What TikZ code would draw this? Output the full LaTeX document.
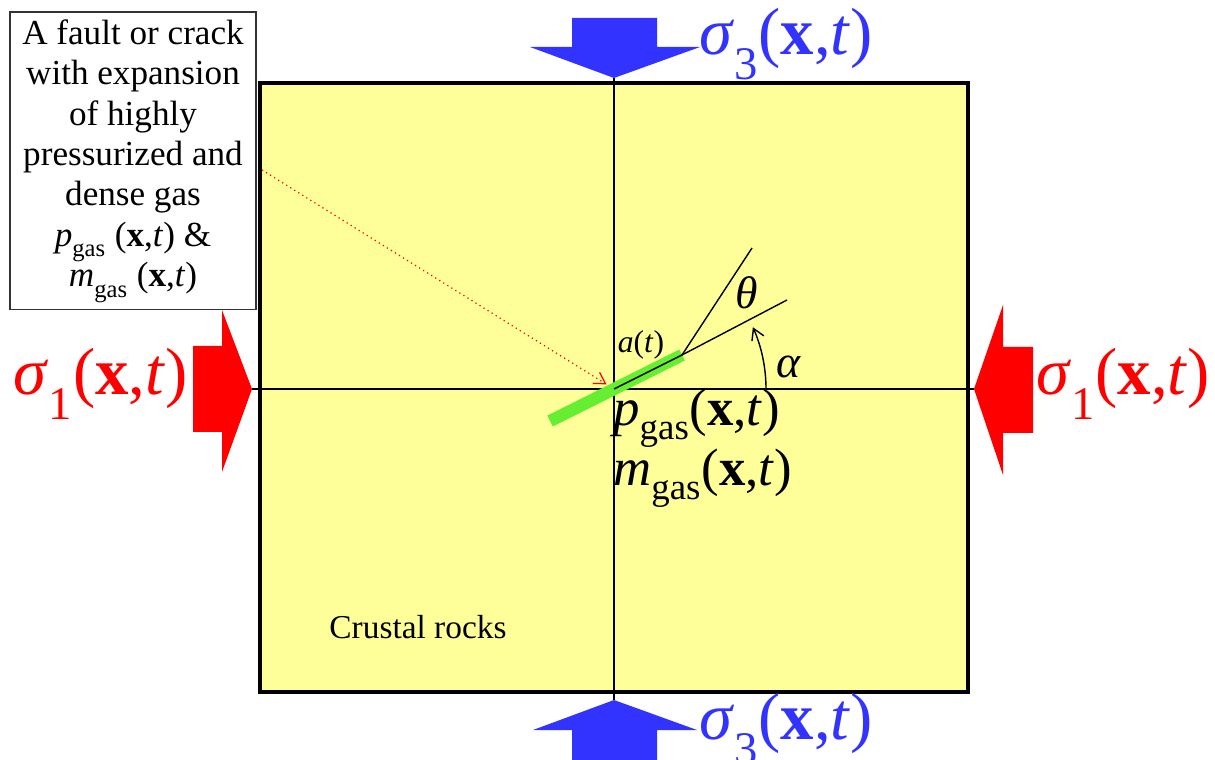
\documentclass[tikz,border=0pt]{standalone}
\usepackage{fontspec}
\setmainfont{Liberation Serif}
\usetikzlibrary{arrows.meta}
\definecolor{rockyellow}{HTML}{FFFF99}
\definecolor{sigred}{HTML}{FF0000}
\definecolor{sigblue}{HTML}{3333FF}
\definecolor{gasgreen}{HTML}{66EE33}
\newcommand{\xtarg}{(\textbf{x},\textit{t})}
\newcommand{\lowsub}[1]{\raisebox{-0.3ex}{\textsubscript{#1}}}
\newcommand{\bigfont}{\fontsize{38}{42}\selectfont}

\begin{document}
\begin{tikzpicture}[x=0.02cm, y=-0.02cm, >={Straight Barb[length=2.2mm, width=2.6mm]}]
\tikzset{
  sigtext/.style={inner sep=0pt, font=\bigfont},
  gastext/.style={inner sep=0pt, anchor=west, font=\fontsize{30}{34}\selectfont},
  notetext/.style={inner sep=0pt, font=\fontsize{26}{30}\selectfont}
}
\useasboundingbox (0,0) rectangle (1215,760);

% ============================================================
% Crustal rock block
% ============================================================
\fill[rockyellow] (260,83) rectangle (968,692);

% stress arrows (block arrows)
\fill[sigblue] (572,18) -- (657,18) -- (657,47) -- (700,47) -- (614,78)
  -- (530,47) -- (572,47) -- cycle;
\fill[sigblue] (572,760) -- (657,760) -- (657,730) -- (697,730) -- (614,700)
  -- (533,730) -- (572,730) -- cycle;
\fill[sigred] (193,346) -- (222,346) -- (222,310) -- (252,389) -- (222,472)
  -- (222,432) -- (193,432) -- cycle;
\fill[sigred] (1033,347) -- (1003,347) -- (1003,305) -- (974,389) -- (1003,475)
  -- (1003,433) -- (1033,433) -- cycle;

% arrow tips and centre
\coordinate (toptip) at (614,78);
\coordinate (bottip) at (614,700);
\coordinate (lefttip) at (252,389);
\coordinate (righttip) at (974,389);
\coordinate (origin) at (614,389);

% Axes
\draw[line width=0.8pt] (toptip) -- (bottip);
\draw[line width=0.8pt] (lefttip) -- (righttip);

% Block outline
\draw[line width=1.8pt] (260,83) rectangle (968,692);

% ============================================================
% Crack with angles
% ============================================================
\coordinate (cracklo) at (550,421);
\coordinate (crackhi) at (682,355);
\draw[gasgreen, line width=7pt] (cracklo) -- (crackhi);
\coordinate (alphaend) at (787,300);
\coordinate (thetaend) at (752,248);
\draw[line width=0.8pt] (origin) -- (crackhi) -- (alphaend);
\draw[line width=0.8pt] (crackhi) -- (thetaend);
\draw[line width=0.8pt, ->] (766,389) arc[start angle=0, end angle=24, radius=3.04cm];

\node[notetext] (theta) at (747,293) {\textit{θ}};
\node[notetext] (alpha) at (789,367) {\textit{α}};
\node[inner sep=0pt, font=\fontsize{18}{21}\selectfont] (crackat) at (641,345) {\textit{a}(\textit{t})};

% Gas state labels
\node[gastext] (pgas) at (613,418) {\textit{p}\lowsub{gas}\xtarg};
\node[gastext] (mgas) at (613,478) {\textit{m}\lowsub{gas}\xtarg};

\node[inner sep=0pt, font=\fontsize{19}{22}\selectfont] (rocks) at (418,627) {Crustal rocks};

% ============================================================
% Stress labels
% ============================================================
\node[sigtext, text=sigblue, anchor=west] (s3top) at (699,44) {\textit{σ}\lowsub{3}\xtarg};
\node[sigtext, text=sigblue, anchor=west] (s3bot) at (699,729) {\textit{σ}\lowsub{3}\xtarg};
\node[sigtext, text=sigred, anchor=east] (s1left) at (188,384) {\textit{σ}\lowsub{1}\xtarg};
\node[sigtext, text=sigred, anchor=west] (s1right) at (1036,384) {\textit{σ}\lowsub{1}\xtarg};

% ============================================================
% Callout box
% ============================================================
\node[draw=black!80, line width=0.6pt, fill=white, minimum width=4.92cm, minimum height=5.96cm,
  align=center, font=\fontsize{20}{23}\selectfont, inner sep=2pt] (callout) at (133,161)
  {A fault or crack\\ with expansion\\ of highly\\ pressurized and\\ dense gas\\
   \textit{p}\lowsub{gas} \xtarg\ \&\\
   \textit{m}\lowsub{gas} \xtarg};
\coordinate (calloutpt) at (262,170);
\draw[sigred, dotted, line width=0.7pt, ->, shorten >=5pt] (calloutpt) -- (origin);

\end{tikzpicture}
\end{document}
